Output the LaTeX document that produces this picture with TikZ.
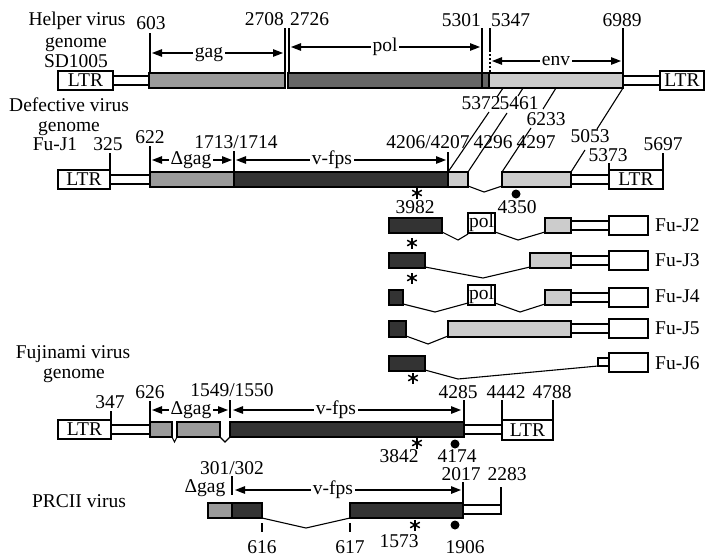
\documentclass[tikz,border=0pt]{standalone}
\usepackage{fontspec}
\setmainfont{Liberation Serif}
\usetikzlibrary{arrows.meta}
\definecolor{gagc}{HTML}{9A9A9A}
\definecolor{polc}{HTML}{666666}
\definecolor{envc}{HTML}{CCCCCC}
\definecolor{fpsc}{HTML}{333333}
\tikzset{
  seg/.style={draw=black, line width=1.6pt},
  gagbox/.style={seg, fill=gagc},
  polbox/.style={seg, fill=polc},
  envbox/.style={seg, fill=envc},
  fpsbox/.style={seg, fill=fpsc},
  whbox/.style={seg, fill=white},
  lbl/.style={inner sep=0pt, anchor=base, font=\fontsize{19.5}{22}\selectfont},
  ltrbox/.style={draw=black, line width=1.6pt, fill=white, inner sep=0pt, font=\fontsize{19.5}{22}\selectfont},
  tickl/.style={line width=1.3pt},
  thinl/.style={line width=1.1pt},
  arr/.style={line width=1.3pt, {Triangle[length=10pt,width=7.5pt]}-{Triangle[length=10pt,width=7.5pt]}},
  arrlbl/.style={lbl, fill=white, inner xsep=2pt, inner ysep=1pt}
}
\newcommand\myast[1]{\foreach \a in {90,30,150}{\draw[line width=1.5pt] (#1) ++(\a:5.5) -- ++(\a:-11);}}
\begin{document}
\begin{tikzpicture}[x=1pt,y=-1pt]
\useasboundingbox (0,0) rectangle (706,557);
\fill[white] (0,0) rectangle (706,557);

% ---------------- Helper virus -----------------
\node[lbl] (th1) at (77,25) {Helper virus};
\node[lbl] (th2) at (76,47) {genome};
\node[lbl] (th3) at (76,67) {SD1005};
\draw[whbox] (113,76) rectangle (149,85);
\draw[whbox] (623,76) rectangle (660,85);
\node[ltrbox, minimum width=55pt, minimum height=19pt] (hl) at (85.5,80.5) {LTR};
\node[ltrbox, minimum width=44pt, minimum height=19pt] (hr) at (682,80.5) {LTR};
\draw[gagbox] (149,73) rectangle (285,88);
\draw[polbox] (288,73) rectangle (489,88);
\draw[envbox] (489,73) rectangle (623,88);
\draw[seg] (482,73) -- (482,88);
% ticks
\draw[tickl] (150,33) -- (150,73);
\draw[tickl] (285,28) -- (285,73);
\draw[tickl] (289,28) -- (289,73);
\draw[tickl] (482,28) -- (482,73);
\draw[tickl] (490,28) -- (490,50);
\draw[tickl, dash pattern=on 2pt off 2pt] (490,50) -- (490,73);
\draw[tickl] (623,28) -- (623,73);
\node[lbl] (n603) at (151,29) {603};
\node[lbl, anchor=base east] (n2708) at (284,25) {2708};
\node[lbl, anchor=base west] (n2726) at (290,25) {2726};
\node[lbl, anchor=base east] (n5301) at (481,26) {5301};
\node[lbl, anchor=base west] (n5347) at (491,26) {5347};
\node[lbl] (n6989) at (622,26) {6989};
\draw[arr] (152,53) -- (283,53);
\node[arrlbl] (lgag) at (209,57) {gag};
\draw[arr] (291,47) -- (480,47);
\node[arrlbl] (lpol) at (385,51) {pol};
\draw[arr] (492,61) -- (621,61);
\node[arrlbl] (lenv) at (556,65) {env};

% ---------------- Fu-J1 -----------------
\node[lbl] (td1) at (69,111) {Defective virus};
\node[lbl] (td2) at (69,131) {genome};
\node[lbl] (td3) at (55,150) {Fu-J1};
\draw[whbox] (110,175) rectangle (150,184);
\draw[whbox] (571,175) rectangle (609,184);
\node[ltrbox, minimum width=52pt, minimum height=19pt] (jl) at (84,179.5) {LTR};
\node[ltrbox, minimum width=54pt, minimum height=19pt] (jr) at (636,179.5) {LTR};
\draw[gagbox] (150,172) rectangle (234,187);
\draw[fpsbox] (234,172) rectangle (448,187);
\draw[envbox] (448,172) rectangle (468,187);
\draw[envbox] (502,172) rectangle (571,187);
\draw[thinl] (468,186) -- (484,192) -- (502,186);
\draw[tickl] (110,153) -- (110,170);
\draw[tickl] (150,146) -- (150,172);
\draw[tickl] (234,151) -- (234,172);
\draw[tickl] (448,152) -- (448,172);
\draw[tickl] (609,163) -- (609,170);
\draw[tickl] (663,153) -- (663,170);
\node[lbl] (n325) at (108,150) {325};
\node[lbl] (n622) at (150,143) {622};
\node[lbl] (n1713) at (236,148) {1713/1714};
\node[lbl] (n4206) at (428,148) {4206/4207};
\node[lbl] (n4296) at (493,148) {4296};
\node[lbl] (n4297) at (536,148) {4297};
\node[lbl] (n5053) at (590,142) {5053};
\node[lbl] (n5373) at (608,161) {5373};
\node[lbl] (n5697) at (663,150) {5697};
\node[lbl] (n5372) at (481,109) {5372};
\node[lbl] (n5461) at (519,109) {5461};
\node[lbl] (n6233) at (546,125) {6233};
\draw[arr] (152,160) -- (232,160);
\node[arrlbl] (ldg1) at (191,164) {Δgag};
\draw[arr] (236,160) -- (446,160);
\node[arrlbl] (lfps1) at (332,164) {v-fps};
% slanted connectors helper -> Fu-J1
\draw[thinl] (503,88) -- (497,97);
\draw[thinl] (489,112) -- (448,172);
\draw[thinl] (523,88) -- (518,96);
\draw[thinl] (507,113) -- (468,172);
\draw[thinl] (556,88) -- (543,109);
\draw[thinl] (531,128) -- (502,172);
\draw[thinl] (623,88) -- (597,129);
\draw[thinl] (585,150) -- (571,172);
\myast{417,193}
\fill (516,194) circle (4.5pt);
\node[lbl] (n3982) at (415,213) {3982};
\node[lbl] (n4350) at (517,213) {4350};

% ---------------- Fu-J2 .. Fu-J6 -----------------
% J2
\draw[thinl] (442,232) -- (458,240) -- (468,234);
\draw[thinl] (495,232) -- (518,240) -- (545,232);
\draw[fpsbox] (389,218) rectangle (442,233);
\node[ltrbox, minimum width=27pt, minimum height=20pt] (pol2) at (481.5,223) {pol};
\draw[envbox] (545,218) rectangle (571,233);
\draw[whbox] (571,221) rectangle (609,230);
\node[ltrbox, minimum width=39pt, minimum height=19pt] (b2) at (628.5,225.5) {};
\node[lbl, anchor=base west] (fj2) at (655,231) {Fu-J2};
\myast{412,243}
% J3
\draw[thinl] (425,267) -- (483,278) -- (530,267);
\draw[fpsbox] (389,253) rectangle (425,268);
\draw[envbox] (530,253) rectangle (571,268);
\draw[whbox] (571,256) rectangle (609,265);
\node[ltrbox, minimum width=39pt, minimum height=19pt] (b3) at (628.5,260.5) {};
\node[lbl, anchor=base west] (fj3) at (655,266) {Fu-J3};
\myast{412,278}
% J4
\draw[thinl] (403,304) -- (435,312) -- (468,303);
\draw[thinl] (495,303) -- (520,312) -- (545,304);
\draw[fpsbox] (389,290) rectangle (403,305);
\node[ltrbox, minimum width=27pt, minimum height=20pt] (pol4) at (481.5,295) {pol};
\draw[envbox] (545,290) rectangle (571,305);
\draw[whbox] (571,293) rectangle (609,302);
\node[ltrbox, minimum width=39pt, minimum height=19pt] (b4) at (628.5,297.5) {};
\node[lbl, anchor=base west] (fj4) at (655,302) {Fu-J4};
% J5
\draw[thinl] (406,336) -- (428,344) -- (448,336);
\draw[fpsbox] (389,321) rectangle (406,337);
\draw[envbox] (448,321) rectangle (571,337);
\draw[whbox] (571,324) rectangle (609,333);
\node[ltrbox, minimum width=39pt, minimum height=19pt] (b5) at (628.5,328.5) {};
\node[lbl, anchor=base west] (fj5) at (655,334) {Fu-J5};
% J6
\draw[thinl] (425,370) -- (458,379) -- (598,366);
\draw[fpsbox] (389,356) rectangle (425,371);
\draw[whbox] (598,358) rectangle (609,366);
\node[ltrbox, minimum width=39pt, minimum height=19pt] (b6) at (628.5,362.5) {};
\node[lbl, anchor=base west] (fj6) at (655,369) {Fu-J6};
\myast{413,378}

% ---------------- Fujinami -----------------
\node[lbl] (tf1) at (73,358) {Fujinami virus};
\node[lbl] (tf2) at (74,378) {genome};
\draw[whbox] (111,425) rectangle (150,434);
\draw[whbox] (464,425) rectangle (502,434);
\node[ltrbox, minimum width=53pt, minimum height=19pt] (fl) at (84.5,429.5) {LTR};
\node[ltrbox, minimum width=51pt, minimum height=20pt] (fr) at (527.5,430) {LTR};
\draw[gagbox] (150,422) rectangle (172,437);
\draw[gagbox] (177,422) rectangle (220,437);
\draw[fpsbox] (230,422) rectangle (464,437);
\draw[thinl] (172,437) -- (174.5,442) -- (177,437);
\draw[thinl] (220,437) -- (225,442) -- (230,437);
\draw[tickl] (111,411) -- (111,420);
\draw[tickl] (150,401) -- (150,422);
\draw[tickl] (230,400) -- (230,418);
\draw[tickl] (464,400) -- (464,422);
\draw[tickl] (502,400) -- (502,420);
\draw[tickl] (553,400) -- (553,420);
\node[lbl] (n347) at (110,408) {347};
\node[lbl] (n626) at (150,398) {626};
\node[lbl] (n1549) at (232,396) {1549/1550};
\node[lbl] (n4285) at (458,398) {4285};
\node[lbl] (n4442) at (506,398) {4442};
\node[lbl] (n4788) at (552,398) {4788};
\draw[arr] (152,410) -- (228,410);
\node[arrlbl] (ldg2) at (191,414) {Δgag};
\draw[arr] (233,410) -- (461,410);
\node[arrlbl] (lfps2) at (336,414) {v-fps};
\myast{417,443}
\fill (455,444) circle (4.5pt);
\node[lbl] (n3842) at (399,462) {3842};
\node[lbl] (n4174) at (457,462) {4174};

% ---------------- PRCII -----------------
\node[lbl] (tp) at (79,507) {PRCII virus};
\draw[thinl] (262,518) -- (306,528) -- (350,518);
\draw[gagbox] (208,503) rectangle (232,518);
\draw[fpsbox] (232,503) rectangle (262,518);
\draw[fpsbox] (350,503) rectangle (463,518);
\draw[whbox] (463,505) rectangle (501,514);
\draw[tickl] (232,476) -- (232,495);
\draw[tickl] (463,482) -- (463,503);
\draw[tickl] (501,487) -- (501,505);
\draw[tickl] (262,523) -- (262,532);
\draw[tickl] (350,523) -- (350,532);
\node[lbl] (n301) at (232,474) {301/302};
\node[lbl] (ldg3) at (205,492) {Δgag};
\node[lbl] (n2017) at (461,480) {2017};
\node[lbl] (n2283) at (507,480) {2283};
\draw[arr] (235,490) -- (461,490);
\node[arrlbl] (lfps3) at (333,494) {v-fps};
\myast{415,525}
\fill (455,525) circle (4.5pt);
\node[lbl] (n616) at (262,553) {616};
\node[lbl] (n617) at (350,553) {617};
\node[lbl] (n1573) at (399,547) {1573};
\node[lbl] (n1906) at (465,553) {1906};
\end{tikzpicture}
\end{document}
